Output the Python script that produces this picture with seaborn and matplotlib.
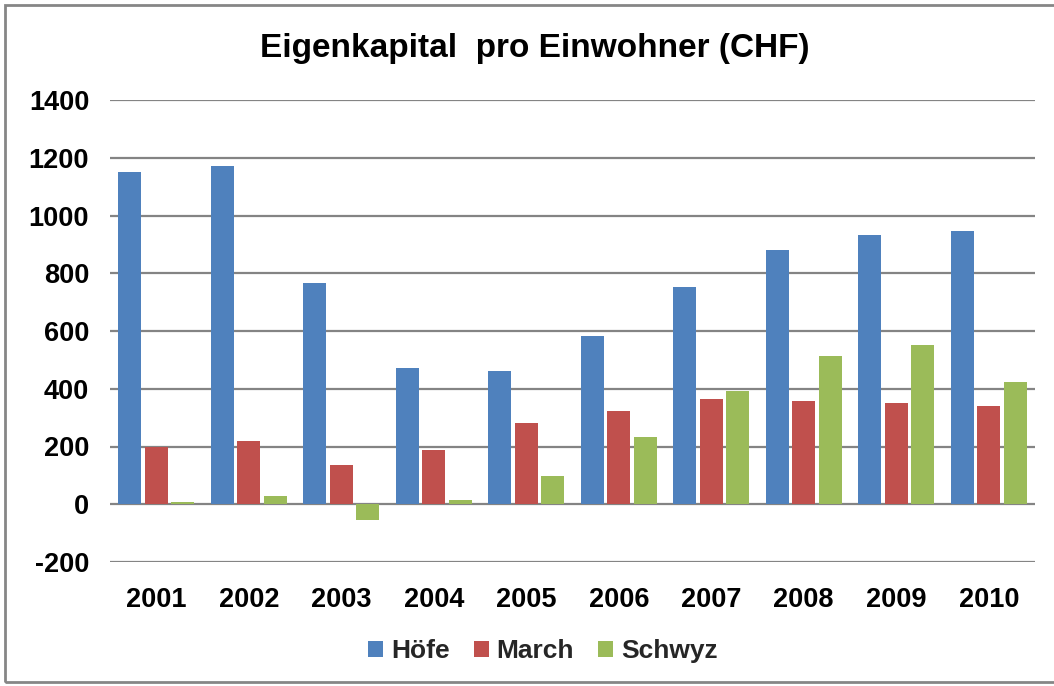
import pandas as pd
import matplotlib.pyplot as plt
import seaborn as sns
from matplotlib.patches import Rectangle

# chart data
years = ["2001", "2002", "2003", "2004", "2005", "2006", "2007", "2008", "2009", "2010"]
hoefe = [1151, 1172, 767, 472, 461, 582, 752, 880, 931, 945]
march = [200, 220, 137, 189, 281, 323, 364, 357, 350, 340]
schwyz = [9, 30, -53, 13, 98, 233, 392, 513, 551, 423]
series = ["Höfe", "March", "Schwyz"]
colors = ["#4F81BD", "#C0504D", "#9BBB59"]
yticks = [-200, 0, 200, 400, 600, 800, 1000, 1200, 1400]


def main():
    sns.set_theme(style="white")
    plt.rcParams["font.family"] = ["Liberation Sans", "DejaVu Sans"]
    plt.rcParams["axes.unicode_minus"] = False

    df = pd.DataFrame({
        "year": years * 3,
        "value": hoefe + march + schwyz,
        "region": [series[0]] * len(years) + [series[1]] * len(years) + [series[2]] * len(years),
    })

    fig = plt.figure(figsize=(10.54, 6.86), dpi=100)
    ax = fig.add_axes([110 / 1054, 1 - 562 / 686, (1035 - 110) / 1054, (562 - 100) / 686])

    sns.barplot(data=df, x="year", y="value", hue="region", palette=colors,
                width=0.86, gap=0.12, saturation=1, linewidth=0, ax=ax, legend=True)

    ax.set_ylim(-200, 1400)
    ax.set_yticks(yticks)
    ax.set_xlim(-0.5, len(years) - 0.5)
    ax.set_xlabel("")
    ax.set_ylabel("")
    for s in ax.spines.values():
        s.set_visible(False)
    ax.grid(axis="y", color="#848484", linewidth=1.6)
    ax.set_axisbelow(True)
    ax.tick_params(axis="y", length=0, pad=15, labelsize=19.5, colors="black")
    ax.tick_params(axis="x", length=0, pad=18, labelsize=19.5, colors="black")
    for lab in ax.get_xticklabels() + ax.get_yticklabels():
        lab.set_fontweight("bold")

    handles, labels = ax.get_legend_handles_labels()
    ax.get_legend().remove()
    fig.legend(handles, labels, loc="center", bbox_to_anchor=(543 / 1054, 1 - 651 / 686),
               ncol=3, frameon=False, handlelength=0.57, handleheight=0.57,
               handletextpad=0.3, columnspacing=0.9,
               prop={"size": 19, "weight": "bold"})

    fig.text(535 / 1054, 1 - 48 / 686, "Eigenkapital  pro Einwohner (CHF)",
             ha="center", va="center", fontsize=24, fontweight="bold", color="black")

    # chart border like the spreadsheet frame
    fig.patches.append(Rectangle((5 / 1054, 4 / 686), 1.1, 1 - 9 / 686,
                                 transform=fig.transFigure, fill=False,
                                 edgecolor="#868686", linewidth=2))

    fig.savefig("out.png", dpi=100)
    plt.close(fig)


if __name__ == "__main__":
    main()
